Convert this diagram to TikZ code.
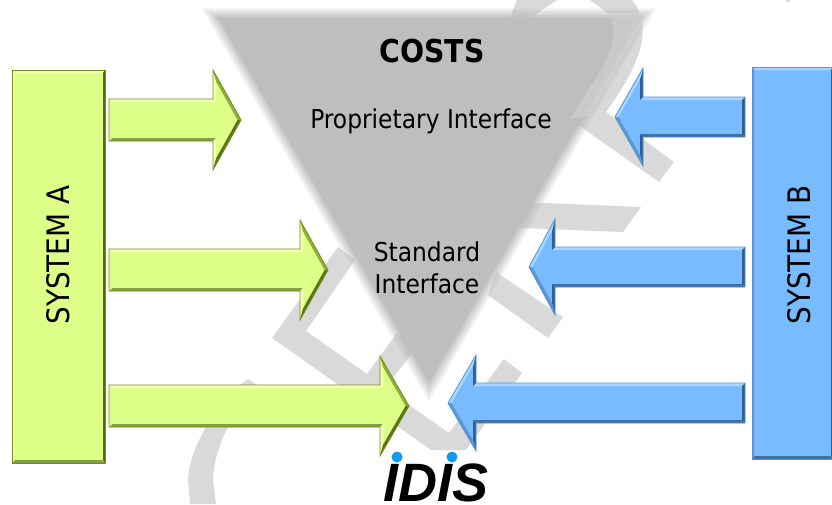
\documentclass[tikz,border=0pt]{standalone}
\usepackage{fontspec}
\setmainfont{DejaVu Sans Condensed}
\newfontfamily\logofont{Liberation Sans}
\usetikzlibrary{calc}
\definecolor{wm}{HTML}{D9D9D9}
\definecolor{tri}{HTML}{BEBEBE}
\definecolor{gbase}{HTML}{DEFF87}
\definecolor{bbase}{HTML}{78BCFF}
\definecolor{HG}{HTML}{6F8F18}
\definecolor{HB}{HTML}{5B93CF}
\definecolor{GT}{HTML}{F8FFB0}
\definecolor{GB}{HTML}{84A044}
\definecolor{GU}{HTML}{8FAE3C}
\definecolor{GD}{HTML}{5A7518}
\definecolor{GR}{HTML}{4F6B10}
\definecolor{BT}{HTML}{A6D8FF}
\definecolor{BB}{HTML}{3E6FA6}
\definecolor{BD}{HTML}{2F5F95}
\definecolor{BU}{HTML}{5C98D4}
\definecolor{logoblue}{HTML}{0F9BEF}
\tikzset{
  x=1pt,y=-1pt,
  mark piece/.style={fill=wm,draw=none},
  g-line/.style={draw=HG,line width=.8pt,line join=miter},
  b-line/.style={draw=HB,line width=.8pt,line join=miter},
  g-fill/.style={fill=gbase},
  g-top/.style={fill=GT}, g-bot/.style={fill=GB}, g-end/.style={fill=gbase},
  g-bu/.style={fill=GT}, g-bl/.style={fill=GT}, g-du/.style={fill=GU}, g-dd/.style={fill=GD},
  g-left/.style={fill=GT}, g-right/.style={fill=GR},
  b-fill/.style={fill=bbase},
  b-top/.style={fill=BT}, b-bot/.style={fill=BB}, b-end/.style={fill=BD},
  b-bu/.style={fill=BD}, b-bl/.style={fill=BD}, b-du/.style={fill=BT}, b-dd/.style={fill=BU},
  b-left/.style={fill=BU}, b-right/.style={fill=BD},
  label text/.style={font=\fontsize{26}{32}\selectfont,text=black,align=center,inner sep=0pt},
}
% #1 shaft end x, #2 head back x, #3 tip x, #4 centre y, #5 half shaft, #6 half head, #7 g or b
\newcommand{\bevelarrow}[7]{%
  \pgfmathsetmacro{\dd}{(#3>#1)?1:-1}
  \pgfmathsetmacro{\bw}{3}
  \pgfmathsetmacro{\hl}{abs(#3-#2)}
  \pgfmathsetmacro{\hy}{\bw*(#6/\hl)+\bw*sqrt(1+(#6/\hl)^2)}
  \pgfmathsetmacro{\ti}{\bw*sqrt(\hl*\hl+#6*#6)/#6}
  \coordinate (S1) at (#1,#4-#5);
  \coordinate (B1) at (#2,#4-#5);
  \coordinate (H1) at (#2,#4-#6);
  \coordinate (T) at (#3,#4);
  \coordinate (H2) at (#2,#4+#6);
  \coordinate (B2) at (#2,#4+#5);
  \coordinate (S2) at (#1,#4+#5);
  \coordinate (S1i) at (#1+\dd*\bw,#4-#5+\bw);
  \coordinate (B1i) at (#2+\dd*\bw,#4-#5+\bw);
  \coordinate (H1i) at (#2+\dd*\bw,#4-#6+\hy);
  \coordinate (Ti) at (#3-\dd*\ti,#4);
  \coordinate (H2i) at (#2+\dd*\bw,#4+#6-\hy);
  \coordinate (B2i) at (#2+\dd*\bw,#4+#5-\bw);
  \coordinate (S2i) at (#1+\dd*\bw,#4+#5-\bw);
  \fill[#7-fill] (S1)--(B1)--(H1)--(T)--(H2)--(B2)--(S2)--cycle;
  \fill[#7-top] (S1)--(B1)--(B1i)--(S1i)--cycle;
  \fill[#7-bot] (S2)--(B2)--(B2i)--(S2i)--cycle;
  \fill[#7-end] (S1)--(S1i)--(S2i)--(S2)--cycle;
  \fill[#7-bu] (B1)--(H1)--(H1i)--(B1i)--cycle;
  \fill[#7-bl] (B2)--(H2)--(H2i)--(B2i)--cycle;
  \fill[#7-du] (H1)--(T)--(Ti)--(H1i)--cycle;
  \fill[#7-dd] (H2)--(T)--(Ti)--(H2i)--cycle;
  \draw[#7-line] (S1)--(B1)--(H1)--(T)--(H2)--(B2)--(S2)--cycle;
}
% #1 left, #2 top, #3 right, #4 bottom, #5 g or b
\newcommand{\bevelbox}[5]{%
  \fill[#5-fill] (#1,#2) rectangle (#3,#4);
  \fill[#5-top] (#1,#2)--(#3,#2)--(#3-3,#2+3)--(#1+3,#2+3)--cycle;
  \fill[#5-bot] (#1,#4)--(#3,#4)--(#3-3,#4-3)--(#1+3,#4-3)--cycle;
  \fill[#5-left] (#1,#2)--(#1+2,#2+3)--(#1+2,#4-3)--(#1,#4)--cycle;
  \fill[#5-right] (#3,#2)--(#3-2,#2+3)--(#3-2,#4-3)--(#3,#4)--cycle;
  \draw[#5-line] (#1,#2) rectangle (#3,#4);
}
\begin{document}
\begin{tikzpicture}
\useasboundingbox (0,0) rectangle (832,504);
\fill[white] (0,0) rectangle (832,504);
% watermark letters
\fill[mark piece] (248,379) .. controls (225,395) and (190,440) .. (188,480) -- (190,504) -- (216,504) -- (213,480) .. controls (214,445) and (235,410) .. (257,385) -- cycle;
\fill[mark piece] (272,338)--(338,247)--(355,260)--(306,331)--(367,374)--(408,318)--(428,333)--(385,388)--(449,433)--(504,359)--(522,373)--(466,450)--(431,450)--cycle;
\fill[mark piece] (488,295)--(496,272)--(563,317)--(548,338)--cycle;
\fill[mark piece] (520,202)--(641,207)--(623,232)--(520,228)--cycle;
\fill[mark piece] (517,0)--(557,0)--(530,18)--(505,30)--cycle;
\fill[mark piece] (590,0)--(632,0) .. controls (642,12) and (645,30) .. (641,45) .. controls (635,70) and (620,92) .. (606,112) -- (674,162)--(659,182)--(560,112)--(590,87) .. controls (605,65) and (620,40) .. (610,15) -- cycle;
\fill[mark piece] (785,0)--(790,0)--(788,3)--cycle;
% soft-edged triangle
\foreach \s/\a in {1.04/.125,1.029/.143,1.017/.167,1.006/.2,.994/.25,.983/.333,.971/.5,.96/1}{
  \fill[tri,fill opacity=\a,shift={(429,139.5)},scale=\s] (-219,-126.5)--(219,-126.5)--(0,252.5)--cycle;
}
\begin{scope}
  \clip (210,13)--(648,13)--(429,392)--cycle;
  \fill[white,fill opacity=.18] (590,0)--(632,0) .. controls (642,12) and (645,30) .. (641,45) .. controls (635,70) and (620,92) .. (606,112) -- (570,119)--(590,87) .. controls (605,65) and (620,40) .. (610,15) -- cycle;
\end{scope}
% boxes
\bevelbox{12}{70}{105}{463}{g}
\bevelbox{752}{67}{833}{459}{b}
% arrows
\bevelarrow{109}{213}{241}{120}{21}{50}{g}
\bevelarrow{109}{300}{328}{270}{21}{50}{g}
\bevelarrow{109}{380}{409}{406}{21}{50}{g}
\bevelarrow{745}{643}{615}{117}{20}{49}{b}
\bevelarrow{745}{555}{529}{267}{20}{48}{b}
\bevelarrow{745}{476}{448}{403}{20}{48}{b}
% labels
\node[label text,font=\fontsize{31}{32}\selectfont,rotate=90] (sysa) at (58,255) {SYSTEM A};
\node[label text,font=\fontsize{31}{32}\selectfont,rotate=90] (sysb) at (799,255) {SYSTEM B};
\node[label text,font=\bfseries\fontsize{31.5}{32}\selectfont] (costs) at (432,51) {COSTS};
\node[label text] (prop) at (431,121.5) {Proprietary Interface};
\node[label text] (std) at (427,268) {Standard\\Interface};
% logo
\node[inner sep=0pt,anchor=base,font=\logofont\bfseries\itshape\fontsize{54}{54}\selectfont] (logo) at (436,501.5) {IDIS};
\fill[logoblue] (397,457) circle (5.5);
\fill[logoblue] (452,457) circle (5.5);
\end{tikzpicture}
\end{document}
